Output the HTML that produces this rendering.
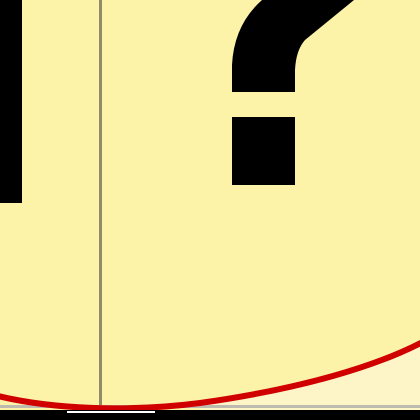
<!DOCTYPE html>
<html><head><meta charset="utf-8"><style>
html,body{margin:0;padding:0;width:420px;height:420px;overflow:hidden;background:#fcf2a8;}
</style></head><body>
<svg width="420" height="420" viewBox="0 0 420 420" xmlns="http://www.w3.org/2000/svg">
  <rect x="0" y="0" width="420" height="420" fill="#fcf2a8"/>
  <path d="M200,403 C300,389 380,366 430,338 L430,420 L200,420 Z" fill="#fdf5c8"/>
  <rect x="0" y="0" width="22" height="203" fill="#000"/>
  <rect x="99" y="0" width="3" height="408" fill="#8f8a6a"/>
  <path d="M232,92 L232,65 Q234,25 262,0 L354,0 L305,40 Q296,50 295,70 L295,92 Z" fill="#000"/>
  <rect x="232" y="117" width="63" height="68" fill="#000"/>
  <rect x="0" y="405" width="420" height="3" fill="#bdbab0"/>
  <path d="M-10,394 C50,410 130,412 200,403 C300,389 380,366 430,338" fill="none" stroke="#d00000" stroke-width="6"/>
  <rect x="0" y="410" width="420" height="10" fill="#000"/>
  <rect x="67" y="411" width="88" height="2" fill="#fff"/>
</svg>
</body></html>
